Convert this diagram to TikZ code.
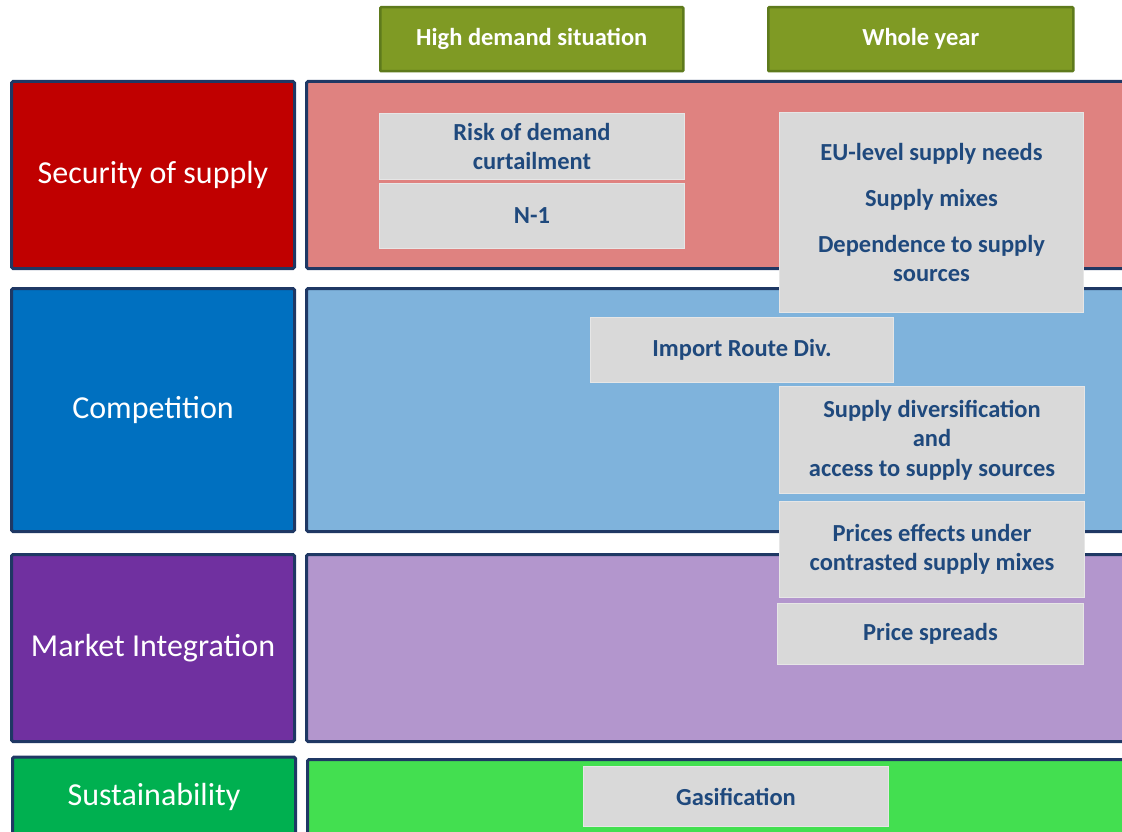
\documentclass[tikz,border=0pt]{standalone}
\usepackage{fontspec}
\setmainfont{Carlito}
\begin{document}
\begin{tikzpicture}[x=1pt,y=-1pt,
  navy/.style={draw=navyc, line width=3pt, rounded corners=1.5pt},
  catbox/.style={navy, anchor=north west, inner sep=0pt, text=white, font=\fontsize{32}{38}\selectfont, align=center},
  band/.style={navy, anchor=north west, inner sep=0pt},
  hdr/.style={draw=olivedark, line width=2.5pt, fill=olivec, rounded corners=1pt, anchor=north west, inner sep=0pt, text=white, font=\bfseries\fontsize{24.5}{29}\selectfont},
  item/.style={draw=grayedge, line width=1pt, fill=grayc, anchor=north west, inner sep=0pt, text=textblue, font=\bfseries\fontsize{24.5}{29.5}\selectfont, align=center}]
\definecolor{navyc}{HTML}{1F3864}
\definecolor{olivec}{HTML}{7F9A24}
\definecolor{olivedark}{HTML}{5E7A1C}
\definecolor{grayc}{HTML}{D9D9D9}
\definecolor{grayedge}{HTML}{E6E6E6}
\definecolor{textblue}{HTML}{1F497D}
\definecolor{redc}{HTML}{C00000}
\definecolor{redl}{HTML}{DF8280}
\definecolor{bluec}{HTML}{0070C0}
\definecolor{bluel}{HTML}{7FB3DC}
\definecolor{purc}{HTML}{7030A0}
\definecolor{purl}{HTML}{B396CD}
\definecolor{grnc}{HTML}{00B050}
\definecolor{grnl}{HTML}{43DF50}
\useasboundingbox (0,0) rectangle (1122,832);
\clip (0,0) rectangle (1122,832);
% headers
\node[hdr, minimum width=303pt, minimum height=64pt] (h1) at (379,6) {High demand situation};
\node[hdr, minimum width=305pt, minimum height=64pt] (h2) at (767,6) {Whole year};
% left category boxes
\node[catbox, fill=redc, minimum width=283pt, minimum height=187pt] (c1) at (10,80) {Security of supply};
\node[catbox, fill=bluec, minimum width=283pt, minimum height=243pt] (c2) at (10,287) {Competition};
\node[catbox, fill=purc, minimum width=283pt, minimum height=187pt] (c3) at (10,553) {Market Integration};
\node[catbox, fill=grnc, minimum width=283pt, minimum height=80pt, anchor=west] (c4) at (11,797) {Sustainability};
% right bands
\node[band, fill=redl, minimum width=830pt, minimum height=187pt] (b1) at (305,80) {};
\node[band, fill=bluel, minimum width=830pt, minimum height=243pt] (b2) at (305,287) {};
\node[band, fill=purl, minimum width=830pt, minimum height=187pt] (b3) at (305,553) {};
\node[band, fill=grnl, minimum width=830pt, minimum height=90pt] (b4) at (306,758) {};
% items
\node[item, minimum width=305pt, minimum height=66pt] (i1) at (379,113) {Risk of demand\\curtailment};
\node[item, minimum width=305pt, minimum height=65pt] (i2) at (379,183) {N-1};
\node[item, minimum width=304pt, minimum height=200pt] (i3) at (779,112) {EU-level supply needs\\[16.5pt]Supply mixes\\[16.5pt]Dependence to supply\\sources};
\node[item, minimum width=303pt, minimum height=65pt] (i4) at (590,317) {Import Route Div.};
\node[item, minimum width=305pt, minimum height=107pt] (i5) at (779,386) {Supply diversification\\and\\access to supply sources};
\node[item, minimum width=305pt, minimum height=96pt] (i6) at (779,501) {Prices effects under\\contrasted supply mixes};
\node[item, minimum width=306pt, minimum height=61pt] (i7) at (777,603) {Price spreads};
\node[item, minimum width=305pt, minimum height=60pt] (i8) at (583,766) {Gasification};
\end{tikzpicture}
\end{document}
